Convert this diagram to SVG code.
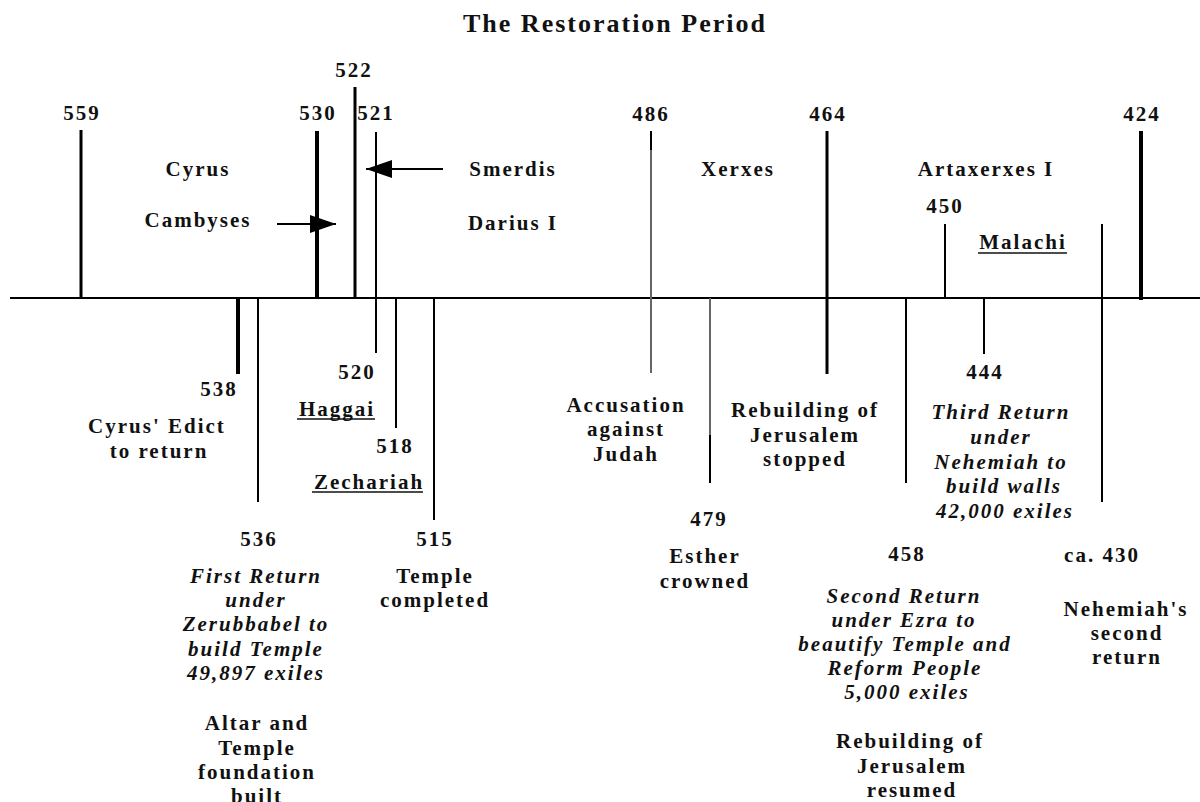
<svg xmlns="http://www.w3.org/2000/svg" width="1200" height="802" viewBox="0 0 1200 802">
<style>
text{font-family:"Liberation Serif","Times New Roman",serif;font-weight:bold;font-size:21px;letter-spacing:2px;fill:#111;text-anchor:middle}
.it{font-style:italic}
.title{font-size:26px}
.ln{stroke:#000;stroke-width:2;fill:none}
.th{stroke-width:3}
.tk{stroke-width:4}
.gr{stroke:#666}
.ul{stroke:#111;stroke-width:1.5}
</style>
<defs>
<marker id="ah" markerUnits="userSpaceOnUse" markerWidth="26" markerHeight="18" refX="26" refY="9" orient="auto">
<path d="M0,0 L26,9 L0,18 z" fill="#000"/>
</marker>
</defs>
<rect width="1200" height="802" fill="#fff"/>
<text class="title" x="615" y="32">The Restoration Period</text>

<g id="connectors">
<line class="ln" x1="10" y1="298" x2="1200" y2="298"/>
<line class="ln th" x1="81" y1="130" x2="81" y2="298"/>
<line class="ln tk" x1="317" y1="131" x2="317" y2="298"/>
<line class="ln th" x1="355" y1="87" x2="355" y2="298"/>
<line class="ln" x1="376" y1="132" x2="376" y2="353"/>
<line class="ln" x1="651" y1="131" x2="651" y2="150"/>
<line class="ln gr" x1="651" y1="150" x2="651" y2="373"/>
<line class="ln th" x1="827" y1="131" x2="827" y2="374"/>
<line class="ln" x1="945" y1="224" x2="945" y2="298"/>
<line class="ln" x1="1102" y1="224" x2="1102" y2="502"/>
<line class="ln tk" x1="1141" y1="131" x2="1141" y2="300"/>
<line class="ln tk" x1="238" y1="298" x2="238" y2="374"/>
<line class="ln" x1="258" y1="298" x2="258" y2="502"/>
<line class="ln" x1="396" y1="298" x2="396" y2="428"/>
<line class="ln" x1="434" y1="298" x2="434" y2="520"/>
<line class="ln gr" x1="710" y1="298" x2="710" y2="435"/>
<line class="ln" x1="710" y1="435" x2="710" y2="483"/>
<line class="ln" x1="906" y1="298" x2="906" y2="483"/>
<line class="ln" x1="984" y1="298" x2="984" y2="354"/>
<line class="ln" x1="443" y1="169" x2="366" y2="169" marker-end="url(#ah)"/>
<line class="ln" x1="277" y1="224" x2="336" y2="224" stroke="#444" marker-end="url(#ah)"/>
</g>

<g id="n559"><text x="82" y="120">559</text></g>
<g id="n530"><text x="318" y="120">530</text></g>
<g id="n522"><text x="354" y="77">522</text></g>
<g id="n521"><text x="376" y="120">521</text></g>
<g id="n486"><text x="651" y="121">486</text></g>
<g id="n464"><text x="828" y="121">464</text></g>
<g id="n424"><text x="1142" y="121">424</text></g>
<g id="cyrus"><text x="198" y="176">Cyrus</text></g>
<g id="cambyses"><text x="198" y="227">Cambyses</text></g>
<g id="smerdis"><text x="513" y="176">Smerdis</text></g>
<g id="darius"><text x="513" y="230">Darius I</text></g>
<g id="xerxes"><text x="738" y="176">Xerxes</text></g>
<g id="artaxerxes"><text x="986" y="176">Artaxerxes I</text></g>
<g id="n450"><text x="945" y="213">450</text></g>
<g id="malachi"><text x="1023" y="249">Malachi</text><line class="ul" x1="978" y1="253" x2="1067" y2="253"/></g>

<g id="n538"><text x="219" y="396">538</text></g>
<g id="edict"><text x="157" y="433">Cyrus' Edict</text><text x="159" y="458">to return</text></g>
<g id="n520"><text x="357" y="379">520</text></g>
<g id="haggai"><text x="337" y="416">Haggai</text><line class="ul" x1="297" y1="419" x2="375" y2="419"/></g>
<g id="n518"><text x="395" y="453">518</text></g>
<g id="zechariah"><text x="369" y="489">Zechariah</text><line class="ul" x1="312" y1="492" x2="423" y2="492"/></g>
<g id="n536"><text x="259" y="546">536</text>
<text class="it" x="256" y="583">First Return</text>
<text class="it" x="256" y="607">under</text>
<text class="it" x="256" y="631">Zerubbabel to</text>
<text class="it" x="256" y="656">build Temple</text>
<text class="it" x="256" y="680">49,897 exiles</text>
<text x="257" y="730">Altar and</text>
<text x="257" y="755">Temple</text>
<text x="257" y="779">foundation</text>
<text x="257" y="803">built</text>
</g>
<g id="n515"><text x="435" y="546">515</text><text x="435" y="583">Temple</text><text x="435" y="607">completed</text></g>
<g id="accusation"><text x="626" y="412">Accusation</text><text x="626" y="436">against</text><text x="626" y="461">Judah</text></g>
<g id="stopped"><text x="805" y="417">Rebuilding of</text><text x="805" y="442">Jerusalem</text><text x="805" y="466">stopped</text></g>
<g id="n479"><text x="709" y="526">479</text><text x="705" y="563">Esther</text><text x="705" y="588">crowned</text></g>
<g id="n444"><text x="985" y="379">444</text>
<text class="it" x="1001" y="419">Third Return</text>
<text class="it" x="1001" y="444">under</text>
<text class="it" x="1001" y="469">Nehemiah to</text>
<text class="it" x="1004" y="493">build walls</text>
<text class="it" x="1005" y="518">42,000 exiles</text>
</g>
<g id="n458"><text x="907" y="561">458</text>
<text class="it" x="904" y="603">Second Return</text>
<text class="it" x="904" y="627">under Ezra to</text>
<text class="it" x="905" y="651">beautify Temple and</text>
<text class="it" x="905" y="675">Reform People</text>
<text class="it" x="907" y="699">5,000 exiles</text>
<text x="910" y="748">Rebuilding of</text>
<text x="912" y="773">Jerusalem</text>
<text x="912" y="797">resumed</text>
</g>
<g id="n430"><text x="1102" y="562">ca. 430</text><text x="1126" y="616">Nehemiah's</text><text x="1127" y="640">second</text><text x="1127" y="664">return</text></g>
</svg>
